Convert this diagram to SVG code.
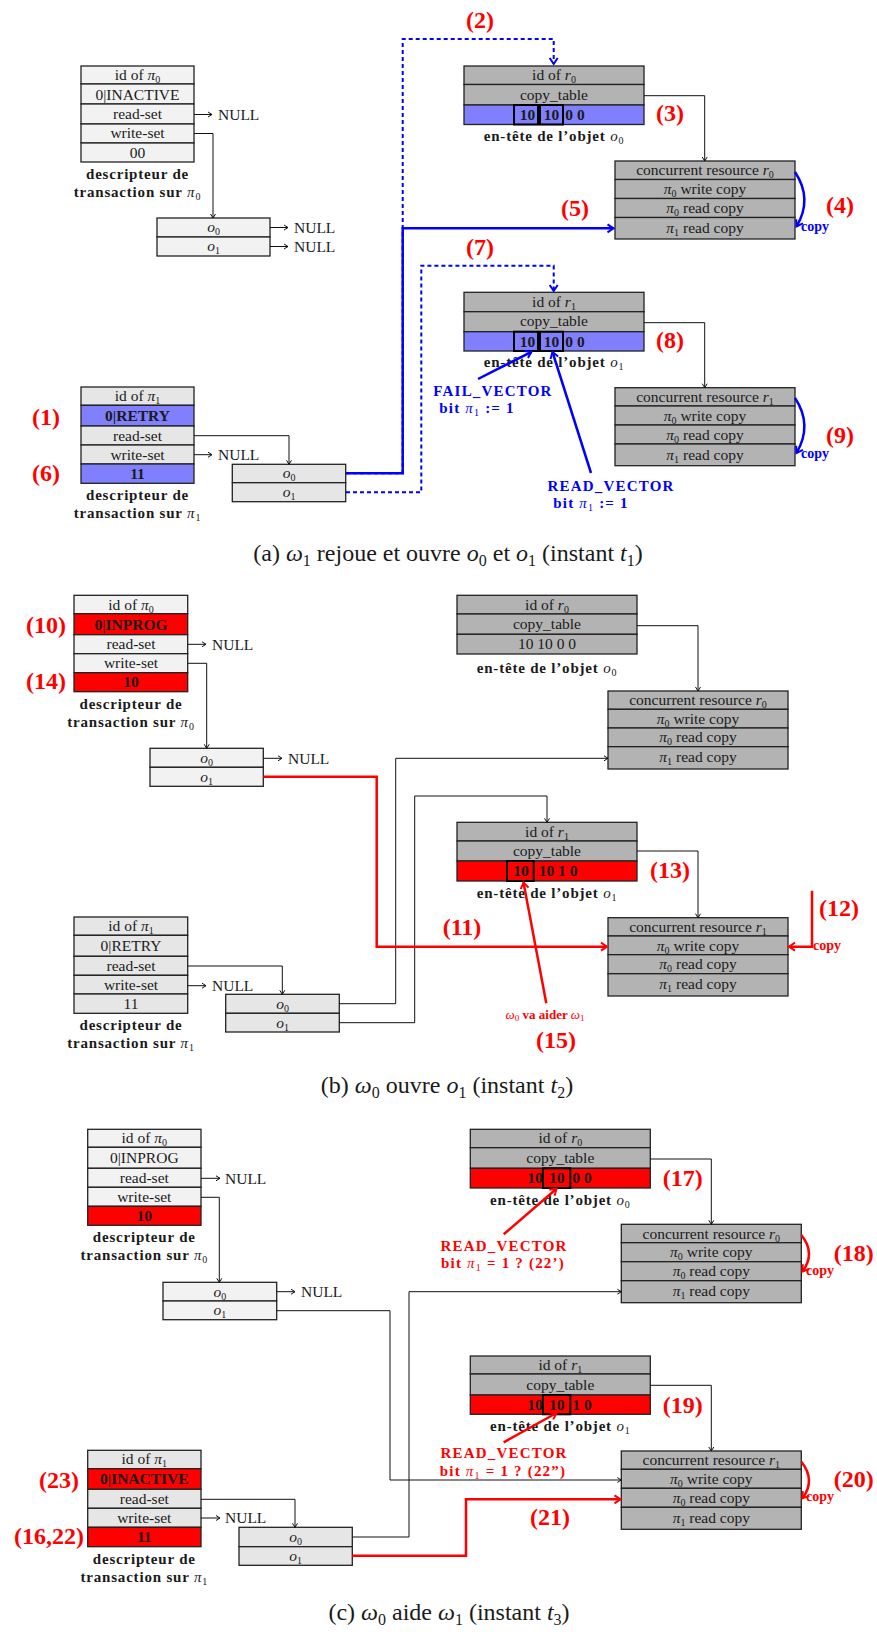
<svg xmlns="http://www.w3.org/2000/svg" width="877" height="1632" viewBox="0 0 877 1632">
<style>
text{font-family:"Liberation Serif",serif;fill:#1a1a1a}
.t{font-size:15.5px;text-anchor:middle}
.tl{font-size:15.5px;text-anchor:start}
.b{font-weight:bold}
.i{font-style:italic}
.n{font-weight:normal}
.s{font-size:10px}
.lb{font-size:15px;font-weight:bold;text-anchor:middle;letter-spacing:0.8px}
.nm{font-size:24px;font-weight:bold;fill:#f00;text-anchor:middle}
.cap{font-size:24px;text-anchor:middle}
.cs{font-size:16px}
.vb{font-size:15px;font-weight:bold;text-anchor:middle;letter-spacing:1.2px;fill:#00f}
.vr{font-size:15px;font-weight:bold;text-anchor:middle;letter-spacing:1.2px;fill:#f00}
.cpb{font-size:14px;font-weight:bold;fill:#00f}
.cpr{font-size:14px;font-weight:bold;fill:#f00}
.sm{font-size:13px;text-anchor:middle;fill:#f00}
.row{stroke:#222;stroke-width:1.3}
.g1{fill:#f2f2f2}.g2{fill:#e6e6e6}.g3{fill:#b3b3b3}.fb{fill:#8080ff}.fr{fill:#f00}
.hb{fill:none;stroke:#000;stroke-width:2}
.k{fill:none;stroke:#111;stroke-width:1}
.bl{fill:none;stroke:#00f;stroke-width:2.5}
.dsh{stroke-width:2;stroke-dasharray:4 3}
.rl{fill:none;stroke:#f00;stroke-width:2.5}
</style>
<defs>
<marker id="mk" markerUnits="userSpaceOnUse" markerWidth="10" markerHeight="10" viewBox="-8 -5 10 10" refX="0" refY="0" orient="auto" overflow="visible"><path d="M-4,-2.5 L0,0 L-4,2.5" fill="none" stroke="#111" stroke-width="1"/></marker>
<marker id="mb" markerUnits="userSpaceOnUse" markerWidth="12" markerHeight="12" viewBox="-10 -6 12 12" refX="0" refY="0" orient="auto" overflow="visible"><path d="M-6,-4 L0,0 L-6,4" fill="none" stroke="#00f" stroke-width="2"/></marker>
<marker id="mr" markerUnits="userSpaceOnUse" markerWidth="12" markerHeight="12" viewBox="-10 -6 12 12" refX="0" refY="0" orient="auto" overflow="visible"><path d="M-6,-4 L0,0 L-6,4" fill="none" stroke="#f00" stroke-width="2"/></marker>
</defs>
<rect width="877" height="1632" fill="#fff"/>

<!-- ================= PANEL A ================= -->
<g id="a-desc-pi0">
<rect class="row g1" x="81" y="66" width="113" height="18"/>
<rect class="row g1" x="81" y="84" width="113" height="20"/>
<rect class="row g1" x="81" y="104" width="113" height="20"/>
<rect class="row g1" x="81" y="124" width="113" height="19"/>
<rect class="row g1" x="81" y="143" width="113" height="19"/>
<text class="t" x="137.5" y="80">id of <tspan class="i">π</tspan><tspan class="s" dy="3">0</tspan></text>
<text class="t" x="137.5" y="99.5">0|INACTIVE</text>
<text class="t" x="137.5" y="119">read-set</text>
<text class="t" x="137.5" y="138">write-set</text>
<text class="t" x="137.5" y="157.5">00</text>
<text class="lb" x="137.5" y="179">descripteur de</text>
<text class="lb" x="137.5" y="197">transaction sur <tspan class="i n">π</tspan><tspan class="s n" dy="3">0</tspan></text>
</g>
<g id="a-olist-pi0">
<rect class="row g1" x="157" y="218" width="113" height="19"/>
<rect class="row g1" x="157" y="237" width="113" height="19"/>
<text class="t" x="213.5" y="232"><tspan class="i">o</tspan><tspan class="s" dy="3">0</tspan></text>
<text class="t" x="213.5" y="251"><tspan class="i">o</tspan><tspan class="s" dy="3">1</tspan></text>
</g>
<g id="a-null">
<text class="tl" x="218" y="119.5">NULL</text>
<text class="tl" x="294" y="233">NULL</text>
<text class="tl" x="294" y="252">NULL</text>
<text class="tl" x="218" y="460">NULL</text>
</g>
<g id="a-hdr-r0">
<rect class="row g3" x="464" y="66" width="180" height="18.5"/>
<rect class="row g3" x="464" y="84.5" width="180" height="20.5"/>
<rect class="row fb" x="464" y="105" width="180" height="19.5"/>
<text class="t" x="554" y="80">id of <tspan class="i">r</tspan><tspan class="s" dy="3">0</tspan></text>
<text class="t" x="554" y="99.5">copy_table</text>
<rect class="hb" x="514" y="105" width="24" height="19.5"/>
<rect class="hb" x="540" y="105" width="23" height="19.5"/>
<text class="t b" x="527.5" y="120">10</text>
<text class="t b" x="551.5" y="120">10</text>
<text class="t b" x="575" y="120">0 0</text>
<text class="lb" x="554" y="141">en-tête de l’objet <tspan class="i n">o</tspan><tspan class="s n" dy="3">0</tspan></text>
</g>
<g id="a-res-r0">
<rect class="row g3" x="615" y="161" width="180" height="18.5"/>
<rect class="row g3" x="615" y="179.5" width="180" height="19"/>
<rect class="row g3" x="615" y="198.5" width="180" height="19"/>
<rect class="row g3" x="615" y="217.5" width="180" height="21.5"/>
<text class="t" x="705" y="175">concurrent resource <tspan class="i">r</tspan><tspan class="s" dy="3">0</tspan></text>
<text class="t" x="705" y="194"><tspan class="i">π</tspan><tspan class="s" dy="3">0</tspan><tspan dy="-3"> write copy</tspan></text>
<text class="t" x="705" y="213"><tspan class="i">π</tspan><tspan class="s" dy="3">0</tspan><tspan dy="-3"> read copy</tspan></text>
<text class="t" x="705" y="233"><tspan class="i">π</tspan><tspan class="s" dy="3">1</tspan><tspan dy="-3"> read copy</tspan></text>
<text class="cpb" x="801" y="231">copy</text>
</g>
<g id="a-hdr-r1">
<rect class="row g3" x="464" y="292.3" width="180" height="19.4"/>
<rect class="row g3" x="464" y="311.7" width="180" height="20"/>
<rect class="row fb" x="464" y="331.7" width="180" height="19.3"/>
<text class="t" x="554" y="306.5">id of <tspan class="i">r</tspan><tspan class="s" dy="3">1</tspan></text>
<text class="t" x="554" y="326">copy_table</text>
<rect class="hb" x="514" y="331.7" width="24" height="19.3"/>
<rect class="hb" x="540" y="331.7" width="23" height="19.3"/>
<text class="t b" x="527.5" y="346.5">10</text>
<text class="t b" x="551.5" y="346.5">10</text>
<text class="t b" x="575" y="346.5">0 0</text>
<text class="lb" x="554" y="367">en-tête de l’objet <tspan class="i n">o</tspan><tspan class="s n" dy="3">1</tspan></text>
</g>
<g id="a-res-r1">
<rect class="row g3" x="615" y="387.7" width="180" height="18.3"/>
<rect class="row g3" x="615" y="406" width="180" height="19"/>
<rect class="row g3" x="615" y="425" width="180" height="19"/>
<rect class="row g3" x="615" y="444" width="180" height="21.7"/>
<text class="t" x="705" y="401.5">concurrent resource <tspan class="i">r</tspan><tspan class="s" dy="3">1</tspan></text>
<text class="t" x="705" y="420.5"><tspan class="i">π</tspan><tspan class="s" dy="3">0</tspan><tspan dy="-3"> write copy</tspan></text>
<text class="t" x="705" y="439.5"><tspan class="i">π</tspan><tspan class="s" dy="3">0</tspan><tspan dy="-3"> read copy</tspan></text>
<text class="t" x="705" y="459.5"><tspan class="i">π</tspan><tspan class="s" dy="3">1</tspan><tspan dy="-3"> read copy</tspan></text>
<text class="cpb" x="801" y="458">copy</text>
</g>
<g id="a-desc-pi1">
<rect class="row g2" x="81" y="387" width="113" height="18.3"/>
<rect class="row fb" x="81" y="405.3" width="113" height="20.7"/>
<rect class="row g2" x="81" y="426" width="113" height="19"/>
<rect class="row g2" x="81" y="445" width="113" height="19"/>
<rect class="row fb" x="81" y="464" width="113" height="19.3"/>
<text class="t" x="137.5" y="401">id of <tspan class="i">π</tspan><tspan class="s" dy="3">1</tspan></text>
<text class="t b" x="137.5" y="421">0|RETRY</text>
<text class="t" x="137.5" y="440.5">read-set</text>
<text class="t" x="137.5" y="459.5">write-set</text>
<text class="t b" x="137.5" y="479">11</text>
<text class="lb" x="137.5" y="500">descripteur de</text>
<text class="lb" x="137.5" y="518">transaction sur <tspan class="i n">π</tspan><tspan class="s n" dy="3">1</tspan></text>
</g>
<g id="a-olist-pi1">
<rect class="row g2" x="232.3" y="464.3" width="113.4" height="18.4"/>
<rect class="row g2" x="232.3" y="482.7" width="113.4" height="19"/>
<text class="t" x="289" y="478"><tspan class="i">o</tspan><tspan class="s" dy="3">0</tspan></text>
<text class="t" x="289" y="497"><tspan class="i">o</tspan><tspan class="s" dy="3">1</tspan></text>
</g>
<g id="a-labels">
<text class="vb" x="493" y="396">FAIL_VECTOR</text>
<text class="vb" x="477" y="413">bit <tspan class="i n">π</tspan><tspan class="s n" dy="3">1</tspan><tspan dy="-3"> := 1</tspan></text>
<text class="vb" x="611" y="490.5">READ_VECTOR</text>
<text class="vb" x="591" y="508">bit <tspan class="i n">π</tspan><tspan class="s n" dy="3">1</tspan><tspan dy="-3"> := 1</tspan></text>
<text class="nm" x="480" y="28">(2)</text>
<text class="nm" x="670" y="121">(3)</text>
<text class="nm" x="840" y="213">(4)</text>
<text class="nm" x="575" y="216">(5)</text>
<text class="nm" x="480" y="255">(7)</text>
<text class="nm" x="670" y="348">(8)</text>
<text class="nm" x="840" y="443">(9)</text>
<text class="nm" x="46" y="425">(1)</text>
<text class="nm" x="46" y="481">(6)</text>
<text class="cap" x="448" y="561">(a) <tspan class="i">ω</tspan><tspan class="cs" dy="5">1</tspan><tspan dy="-5"> rejoue et ouvre </tspan><tspan class="i">o</tspan><tspan class="cs" dy="5">0</tspan><tspan dy="-5"> et </tspan><tspan class="i">o</tspan><tspan class="cs" dy="5">1</tspan><tspan dy="-5"> (instant </tspan><tspan class="i">t</tspan><tspan class="cs" dy="5">1</tspan><tspan dy="-5">)</tspan></text>
</g>

<!-- ================= PANEL B ================= -->
<g id="b-desc-pi0">
<rect class="row g1" x="74" y="595.3" width="113.7" height="18.4"/>
<rect class="row fr" x="74" y="613.7" width="113.7" height="21"/>
<rect class="row g1" x="74" y="634.7" width="113.7" height="19"/>
<rect class="row g1" x="74" y="653.7" width="113.7" height="19"/>
<rect class="row fr" x="74" y="672.7" width="113.7" height="19"/>
<text class="t" x="131" y="609.5">id of <tspan class="i">π</tspan><tspan class="s" dy="3">0</tspan></text>
<text class="t b" x="131" y="629.5">0|INPROG</text>
<text class="t" x="131" y="649">read-set</text>
<text class="t" x="131" y="668">write-set</text>
<text class="t b" x="131" y="687">10</text>
<text class="lb" x="131" y="709">descripteur de</text>
<text class="lb" x="131" y="727">transaction sur <tspan class="i n">π</tspan><tspan class="s n" dy="3">0</tspan></text>
</g>
<g id="b-olist-pi0">
<rect class="row g1" x="150" y="748.3" width="113.3" height="19"/>
<rect class="row g1" x="150" y="767.3" width="113.3" height="19"/>
<text class="t" x="206.7" y="762.5"><tspan class="i">o</tspan><tspan class="s" dy="3">0</tspan></text>
<text class="t" x="206.7" y="781.5"><tspan class="i">o</tspan><tspan class="s" dy="3">1</tspan></text>
</g>
<g id="b-null">
<text class="tl" x="212" y="649.5">NULL</text>
<text class="tl" x="288" y="763.5">NULL</text>
<text class="tl" x="212" y="991">NULL</text>
</g>
<g id="b-hdr-r0">
<rect class="row g3" x="457" y="595.3" width="180" height="18.7"/>
<rect class="row g3" x="457" y="614" width="180" height="20.3"/>
<rect class="row g3" x="457" y="634.3" width="180" height="19.7"/>
<text class="t" x="547" y="609.5">id of <tspan class="i">r</tspan><tspan class="s" dy="3">0</tspan></text>
<text class="t" x="547" y="629">copy_table</text>
<text class="t" x="547" y="649">10 10 0 0</text>
<text class="lb" x="547" y="673">en-tête de l’objet <tspan class="i n">o</tspan><tspan class="s n" dy="3">0</tspan></text>
</g>
<g id="b-res-r0">
<rect class="row g3" x="608" y="691" width="180" height="18.3"/>
<rect class="row g3" x="608" y="709.3" width="180" height="18.7"/>
<rect class="row g3" x="608" y="728" width="180" height="18.7"/>
<rect class="row g3" x="608" y="746.7" width="180" height="22.3"/>
<text class="t" x="698" y="705">concurrent resource <tspan class="i">r</tspan><tspan class="s" dy="3">0</tspan></text>
<text class="t" x="698" y="723.5"><tspan class="i">π</tspan><tspan class="s" dy="3">0</tspan><tspan dy="-3"> write copy</tspan></text>
<text class="t" x="698" y="742"><tspan class="i">π</tspan><tspan class="s" dy="3">0</tspan><tspan dy="-3"> read copy</tspan></text>
<text class="t" x="698" y="762"><tspan class="i">π</tspan><tspan class="s" dy="3">1</tspan><tspan dy="-3"> read copy</tspan></text>
</g>
<g id="b-hdr-r1">
<rect class="row g3" x="457" y="822.3" width="180" height="18.7"/>
<rect class="row g3" x="457" y="841" width="180" height="20"/>
<rect class="row fr" x="457" y="861" width="180" height="20"/>
<text class="t" x="547" y="836.5">id of <tspan class="i">r</tspan><tspan class="s" dy="3">1</tspan></text>
<text class="t" x="547" y="856">copy_table</text>
<rect class="hb" x="507" y="861" width="26.7" height="20"/>
<text class="t b" x="521" y="876">10</text>
<text class="t b" x="558" y="876">10 1 0</text>
<text class="lb" x="547" y="898">en-tête de l’objet <tspan class="i n">o</tspan><tspan class="s n" dy="3">1</tspan></text>
</g>
<g id="b-res-r1">
<rect class="row g3" x="608" y="917.7" width="180" height="18.3"/>
<rect class="row g3" x="608" y="936" width="180" height="18.7"/>
<rect class="row g3" x="608" y="954.7" width="180" height="19"/>
<rect class="row g3" x="608" y="973.7" width="180" height="22.3"/>
<text class="t" x="698" y="931.5">concurrent resource <tspan class="i">r</tspan><tspan class="s" dy="3">1</tspan></text>
<text class="t" x="698" y="950.5"><tspan class="i">π</tspan><tspan class="s" dy="3">0</tspan><tspan dy="-3"> write copy</tspan></text>
<text class="t" x="698" y="969"><tspan class="i">π</tspan><tspan class="s" dy="3">0</tspan><tspan dy="-3"> read copy</tspan></text>
<text class="t" x="698" y="989"><tspan class="i">π</tspan><tspan class="s" dy="3">1</tspan><tspan dy="-3"> read copy</tspan></text>
<text class="cpr" x="813" y="950">copy</text>
</g>
<g id="b-desc-pi1">
<rect class="row g2" x="74" y="917" width="113.7" height="18.3"/>
<rect class="row g2" x="74" y="935.3" width="113.7" height="21"/>
<rect class="row g2" x="74" y="956.3" width="113.7" height="19"/>
<rect class="row g2" x="74" y="975.3" width="113.7" height="18.7"/>
<rect class="row g2" x="74" y="994" width="113.7" height="19.3"/>
<text class="t" x="131" y="931">id of <tspan class="i">π</tspan><tspan class="s" dy="3">1</tspan></text>
<text class="t" x="131" y="951">0|RETRY</text>
<text class="t" x="131" y="971">read-set</text>
<text class="t" x="131" y="990">write-set</text>
<text class="t" x="131" y="1009">11</text>
<text class="lb" x="131" y="1030">descripteur de</text>
<text class="lb" x="131" y="1048">transaction sur <tspan class="i n">π</tspan><tspan class="s n" dy="3">1</tspan></text>
</g>
<g id="b-olist-pi1">
<rect class="row g2" x="225.7" y="994.3" width="113.6" height="19"/>
<rect class="row g2" x="225.7" y="1013.3" width="113.6" height="18.7"/>
<text class="t" x="282.5" y="1008.5"><tspan class="i">o</tspan><tspan class="s" dy="3">0</tspan></text>
<text class="t" x="282.5" y="1027.5"><tspan class="i">o</tspan><tspan class="s" dy="3">1</tspan></text>
</g>
<g id="b-labels">
<text class="nm" x="46" y="632.5">(10)</text>
<text class="nm" x="46" y="689">(14)</text>
<text class="nm" x="462" y="935">(11)</text>
<text class="nm" x="839" y="916">(12)</text>
<text class="nm" x="670" y="878">(13)</text>
<text class="nm" x="556" y="1048">(15)</text>
<text class="sm" x="545" y="1019"><tspan class="i">ω</tspan><tspan font-size="9" dy="2">0</tspan><tspan class="b" dy="-2"> va aider </tspan><tspan class="i">ω</tspan><tspan font-size="9" dy="2">1</tspan></text>
<text class="cap" x="447" y="1093">(b) <tspan class="i">ω</tspan><tspan class="cs" dy="5">0</tspan><tspan dy="-5"> ouvre </tspan><tspan class="i">o</tspan><tspan class="cs" dy="5">1</tspan><tspan dy="-5"> (instant </tspan><tspan class="i">t</tspan><tspan class="cs" dy="5">2</tspan><tspan dy="-5">)</tspan></text>
</g>

<!-- ================= PANEL C ================= -->
<g id="c-desc-pi0">
<rect class="row g1" x="87.7" y="1129.3" width="113.3" height="18"/>
<rect class="row g1" x="87.7" y="1147.3" width="113.3" height="21"/>
<rect class="row g1" x="87.7" y="1168.3" width="113.3" height="19"/>
<rect class="row g1" x="87.7" y="1187.3" width="113.3" height="19"/>
<rect class="row fr" x="87.7" y="1206.3" width="113.3" height="19"/>
<text class="t" x="144.3" y="1143">id of <tspan class="i">π</tspan><tspan class="s" dy="3">0</tspan></text>
<text class="t" x="144.3" y="1163">0|INPROG</text>
<text class="t" x="144.3" y="1183">read-set</text>
<text class="t" x="144.3" y="1202">write-set</text>
<text class="t b" x="144.3" y="1221">10</text>
<text class="lb" x="144.3" y="1242">descripteur de</text>
<text class="lb" x="144.3" y="1260">transaction sur <tspan class="i n">π</tspan><tspan class="s n" dy="3">0</tspan></text>
</g>
<g id="c-olist-pi0">
<rect class="row g1" x="163" y="1282.3" width="113.7" height="18.7"/>
<rect class="row g1" x="163" y="1301" width="113.7" height="18.7"/>
<text class="t" x="219.8" y="1296.5"><tspan class="i">o</tspan><tspan class="s" dy="3">0</tspan></text>
<text class="t" x="219.8" y="1315"><tspan class="i">o</tspan><tspan class="s" dy="3">1</tspan></text>
</g>
<g id="c-null">
<text class="tl" x="225" y="1183.5">NULL</text>
<text class="tl" x="301" y="1297">NULL</text>
<text class="tl" x="225" y="1523">NULL</text>
</g>
<g id="c-hdr-r0">
<rect class="row g3" x="470.3" y="1129.3" width="180" height="18.4"/>
<rect class="row g3" x="470.3" y="1147.7" width="180" height="20.6"/>
<rect class="row fr" x="470.3" y="1168.3" width="180" height="19.7"/>
<text class="t" x="560.3" y="1143">id of <tspan class="i">r</tspan><tspan class="s" dy="3">0</tspan></text>
<text class="t" x="560.3" y="1163">copy_table</text>
<rect class="hb" x="543" y="1168.3" width="27.3" height="19.7"/>
<text class="t b" x="535" y="1183">10</text>
<text class="t b" x="556.7" y="1183">10</text>
<text class="t b" x="582" y="1183">0 0</text>
<text class="lb" x="560.3" y="1204.5">en-tête de l’objet <tspan class="i n">o</tspan><tspan class="s n" dy="3">0</tspan></text>
</g>
<g id="c-res-r0">
<rect class="row g3" x="621.3" y="1224.3" width="180" height="18.4"/>
<rect class="row g3" x="621.3" y="1242.7" width="180" height="19"/>
<rect class="row g3" x="621.3" y="1261.7" width="180" height="19"/>
<rect class="row g3" x="621.3" y="1280.7" width="180" height="22"/>
<text class="t" x="711.3" y="1238.5">concurrent resource <tspan class="i">r</tspan><tspan class="s" dy="3">0</tspan></text>
<text class="t" x="711.3" y="1257"><tspan class="i">π</tspan><tspan class="s" dy="3">0</tspan><tspan dy="-3"> write copy</tspan></text>
<text class="t" x="711.3" y="1276"><tspan class="i">π</tspan><tspan class="s" dy="3">0</tspan><tspan dy="-3"> read copy</tspan></text>
<text class="t" x="711.3" y="1296"><tspan class="i">π</tspan><tspan class="s" dy="3">1</tspan><tspan dy="-3"> read copy</tspan></text>
<text class="cpr" x="806" y="1275">copy</text>
</g>
<g id="c-hdr-r1">
<rect class="row g3" x="470.3" y="1356" width="180" height="18"/>
<rect class="row g3" x="470.3" y="1374" width="180" height="21"/>
<rect class="row fr" x="470.3" y="1395" width="180" height="19.3"/>
<text class="t" x="560.3" y="1370">id of <tspan class="i">r</tspan><tspan class="s" dy="3">1</tspan></text>
<text class="t" x="560.3" y="1389.5">copy_table</text>
<rect class="hb" x="543" y="1395" width="27.3" height="19.3"/>
<text class="t b" x="535" y="1410">10</text>
<text class="t b" x="556.7" y="1410">10</text>
<text class="t b" x="582" y="1410">1 0</text>
<text class="lb" x="560.3" y="1431">en-tête de l’objet <tspan class="i n">o</tspan><tspan class="s n" dy="3">1</tspan></text>
</g>
<g id="c-res-r1">
<rect class="row g3" x="621.3" y="1451" width="180" height="18.3"/>
<rect class="row g3" x="621.3" y="1469.3" width="180" height="19"/>
<rect class="row g3" x="621.3" y="1488.3" width="180" height="19"/>
<rect class="row g3" x="621.3" y="1507.3" width="180" height="22"/>
<text class="t" x="711.3" y="1465">concurrent resource <tspan class="i">r</tspan><tspan class="s" dy="3">1</tspan></text>
<text class="t" x="711.3" y="1484"><tspan class="i">π</tspan><tspan class="s" dy="3">0</tspan><tspan dy="-3"> write copy</tspan></text>
<text class="t" x="711.3" y="1503"><tspan class="i">π</tspan><tspan class="s" dy="3">0</tspan><tspan dy="-3"> read copy</tspan></text>
<text class="t" x="711.3" y="1523"><tspan class="i">π</tspan><tspan class="s" dy="3">1</tspan><tspan dy="-3"> read copy</tspan></text>
<text class="cpr" x="806" y="1501">copy</text>
</g>
<g id="c-desc-pi1">
<rect class="row g2" x="87.7" y="1450.3" width="113.3" height="18.4"/>
<rect class="row fr" x="87.7" y="1468.7" width="113.3" height="20.6"/>
<rect class="row g2" x="87.7" y="1489.3" width="113.3" height="19"/>
<rect class="row g2" x="87.7" y="1508.3" width="113.3" height="19"/>
<rect class="row fr" x="87.7" y="1527.3" width="113.3" height="19.4"/>
<text class="t" x="144.3" y="1464">id of <tspan class="i">π</tspan><tspan class="s" dy="3">1</tspan></text>
<text class="t b" x="144.3" y="1484">0|INACTIVE</text>
<text class="t" x="144.3" y="1504">read-set</text>
<text class="t" x="144.3" y="1523">write-set</text>
<text class="t b" x="144.3" y="1542">11</text>
<text class="lb" x="144.3" y="1564">descripteur de</text>
<text class="lb" x="144.3" y="1582">transaction sur <tspan class="i n">π</tspan><tspan class="s n" dy="3">1</tspan></text>
</g>
<g id="c-olist-pi1">
<rect class="row g2" x="239" y="1527.3" width="113.3" height="19.4"/>
<rect class="row g2" x="239" y="1546.7" width="113.3" height="18.6"/>
<text class="t" x="295.7" y="1541.5"><tspan class="i">o</tspan><tspan class="s" dy="3">0</tspan></text>
<text class="t" x="295.7" y="1560.5"><tspan class="i">o</tspan><tspan class="s" dy="3">1</tspan></text>
</g>
<g id="c-labels">
<text class="vr" x="504" y="1251">READ_VECTOR</text>
<text class="vr" x="503" y="1268">bit <tspan class="i n">π</tspan><tspan class="s n" dy="3">1</tspan><tspan dy="-3"> = 1 ? (22’)</tspan></text>
<text class="vr" x="504" y="1458.3">READ_VECTOR</text>
<text class="vr" x="503" y="1476">bit <tspan class="i n">π</tspan><tspan class="s n" dy="3">1</tspan><tspan dy="-3"> = 1 ? (22”)</tspan></text>
<text class="nm" x="682.7" y="1185.5">(17)</text>
<text class="nm" x="853.7" y="1261">(18)</text>
<text class="nm" x="682.7" y="1412.5">(19)</text>
<text class="nm" x="853.7" y="1487">(20)</text>
<text class="nm" x="550" y="1525">(21)</text>
<text class="nm" x="59" y="1488">(23)</text>
<text class="nm" x="49" y="1544">(16,22)</text>
<text class="cap" x="449" y="1620">(c) <tspan class="i">ω</tspan><tspan class="cs" dy="5">0</tspan><tspan dy="-5"> aide </tspan><tspan class="i">ω</tspan><tspan class="cs" dy="5">1</tspan><tspan dy="-5"> (instant </tspan><tspan class="i">t</tspan><tspan class="cs" dy="5">3</tspan><tspan dy="-5">)</tspan></text>
</g>

<!-- ================= CONNECTORS ================= -->
<g id="connectors">
<!-- panel a -->
<path class="bl dsh" d="M346,473.3 H402.7 V39 H553.7 V64" marker-end="url(#mb)"/>
<path class="bl dsh" d="M346,492.3 H421.3 V265.7 H553.7 V291" marker-end="url(#mb)"/>
<path class="bl" d="M346,473.3 H402.7 V228.3 H613.5" marker-end="url(#mb)"/>
<path class="bl" d="M478,379 L531.5,351.8" marker-end="url(#mb)"/>
<path class="bl" d="M591,473 L552.5,352" marker-end="url(#mb)"/>
<path class="bl" d="M795,172 Q813,199 796.5,226.5" marker-end="url(#mb)"/>
<path class="bl" d="M795,398 Q813,425 796.5,453" marker-end="url(#mb)"/>
<path class="k" d="M194,114.5 H212" marker-end="url(#mk)"/>
<path class="k" d="M194,133.5 H213 V218" marker-end="url(#mk)"/>
<path class="k" d="M270,227.5 H288" marker-end="url(#mk)"/>
<path class="k" d="M270,246.5 H288" marker-end="url(#mk)"/>
<path class="k" d="M644,95.7 H704.7 V161" marker-end="url(#mk)"/>
<path class="k" d="M644,322.7 H704.7 V387.7" marker-end="url(#mk)"/>
<path class="k" d="M194,435.7 H289 V464.3" marker-end="url(#mk)"/>
<path class="k" d="M194,454.7 H212" marker-end="url(#mk)"/>
<!-- panel b -->
<path class="k" d="M187.7,644.3 H206" marker-end="url(#mk)"/>
<path class="k" d="M187.7,663.3 H206.7 V748.3" marker-end="url(#mk)"/>
<path class="k" d="M263.3,758.3 H282" marker-end="url(#mk)"/>
<path class="k" d="M637,625.7 H698 V691" marker-end="url(#mk)"/>
<path class="k" d="M339.3,1003.7 H395.7 V758.3 H608" marker-end="url(#mk)"/>
<path class="k" d="M339.3,1022.7 H414.7 V796 H547 V822.3" marker-end="url(#mk)"/>
<path class="k" d="M637,851 H698 V917.7" marker-end="url(#mk)"/>
<path class="k" d="M187.7,966 H282.3 V994.3" marker-end="url(#mk)"/>
<path class="k" d="M187.7,985.7 H206" marker-end="url(#mk)"/>
<path class="rl" d="M263.3,776.7 H376.7 V946.7 H607" marker-end="url(#mr)"/>
<path class="rl" d="M812,890.7 V946.7 H789" marker-end="url(#mr)"/>
<path class="rl" d="M546.3,1003.3 L523.5,882.5" marker-end="url(#mr)"/>
<!-- panel c -->
<path class="k" d="M201,1178.3 H220" marker-end="url(#mk)"/>
<path class="k" d="M201,1197.3 H219.3 V1282.3" marker-end="url(#mk)"/>
<path class="k" d="M276.7,1291.7 H295" marker-end="url(#mk)"/>
<path class="k" d="M276.7,1310.7 H390 V1480 H621.3" marker-end="url(#mk)"/>
<path class="k" d="M650.3,1159 H711.3 V1224.3" marker-end="url(#mk)"/>
<path class="k" d="M352.3,1537 H409 V1291.7 H621.3" marker-end="url(#mk)"/>
<path class="k" d="M650.3,1385.3 H711.3 V1451" marker-end="url(#mk)"/>
<path class="k" d="M201,1499.3 H295 V1527.3" marker-end="url(#mk)"/>
<path class="k" d="M201,1518 H220" marker-end="url(#mk)"/>
<path class="rl" d="M801.3,1235 Q816,1253 802.5,1271.5" marker-end="url(#mr)"/>
<path class="rl" d="M503.7,1234.3 L556.5,1188.8" marker-end="url(#mr)"/>
<path class="rl" d="M801.3,1461.7 Q816,1480 802.5,1498.3" marker-end="url(#mr)"/>
<path class="rl" d="M503.7,1442.3 L556.5,1413" marker-end="url(#mr)"/>
<path class="rl" d="M352.3,1555.7 H466 V1499.3 H620.5" marker-end="url(#mr)"/>
</g>
</svg>
